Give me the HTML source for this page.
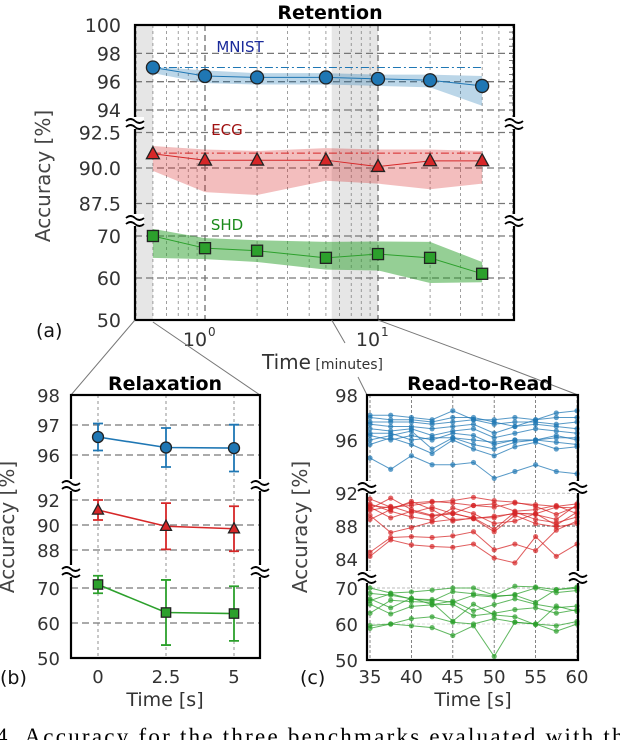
<!DOCTYPE html>
<html><head><meta charset="utf-8"><style>
html,body{margin:0;padding:0;background:#fff;width:620px;height:740px;overflow:hidden}
svg{display:block;font-family:"DejaVu Sans","Liberation Sans",sans-serif}
</style></head><body>
<svg id="chart" width="620" height="740" viewBox="0 0 620 740" xmlns="http://www.w3.org/2000/svg">
<text x="-4" y="744" font-family="Liberation Serif,serif" font-size="23" textLength="640" lengthAdjust="spacing" fill="#000">4. Accuracy for the three benchmarks evaluated with the</text>
</svg>
<script>
// ---------- data: panel (a) Retention ----------
const retTimes = [0.5, 1, 2, 5, 10, 20, 40];
const mnistRet = [97.0, 96.4, 96.3, 96.3, 96.2, 96.1, 95.7];
const mnistUp  = [97.05, 96.8, 96.6, 96.6, 96.5, 96.5, 96.4];
const mnistLo  = [96.6, 95.9, 95.8, 95.8, 95.7, 95.6, 94.3];
const ecgRet = [91.0, 90.55, 90.55, 90.55, 90.1, 90.5, 90.5];
const ecgUp  = [91.55, 91.3, 91.2, 91.4, 91.3, 91.3, 91.2];
const ecgLo  = [89.8, 88.3, 88.1, 89.1, 88.9, 88.5, 88.9];
const shdRet = [70.0, 67.1, 66.5, 64.8, 65.7, 64.8, 61.0];
const shdUp  = [71.7, 69.5, 69.0, 68.6, 68.7, 68.6, 63.8];
const shdLo  = [64.8, 64.5, 63.8, 62.0, 61.8, 58.8, 59.0];
const refMnist = 97.0, refEcg = 91.05;
// ---------- data: panel (b) Relaxation ----------
const relTimes = [0, 2.5, 5];
const mnistRel = [96.6, 96.25, 96.23];
const mnistRelErr = [0.45, 0.65, 0.78];
const ecgRel = [91.2, 89.9, 89.7];
const ecgRelErr = [0.8, 1.85, 1.8];
const shdRel = [71.0, 63.0, 62.7];
const shdRelErr = [2.5, 9.3, 7.8];
// ---------- data: panel (c) Read-to-Read ----------
const rrTimes = [35, 37.5, 40, 42.5, 45, 47.5, 50, 52.5, 55, 57.5, 60];
const mnistRR = [
 [95.2,94.7,95.3,94.9,94.9,95.0,94.3,94.6,94.9,94.6,94.5],
 [95.8,96.1,95.8,95.4,96.0,95.6,95.3,95.7,95.9,95.6,95.7],
 [96.0,96.2,96.4,95.6,96.1,95.8,95.6,95.9,96.0,95.9,95.8],
 [96.2,96.0,96.2,96.0,96.3,96.2,95.8,96.0,96.0,96.2,96.0],
 [96.5,96.4,96.5,96.2,96.4,96.5,96.1,96.3,96.5,96.4,96.3],
 [96.7,96.6,96.6,96.5,96.6,96.7,96.3,96.6,96.7,96.6,96.5],
 [96.8,96.8,96.8,96.7,96.8,96.9,96.7,96.8,96.8,96.7,96.8],
 [97.0,96.9,96.9,96.8,97.0,97.0,96.8,96.6,96.9,97.0,97.0],
 [97.1,97.1,97.0,96.9,97.3,96.9,96.9,97.0,96.9,97.2,97.3],
 [96.3,96.3,96.0,96.1,96.1,96.0,95.9,96.0,96.0,96.1,96.1]
];
const ecgRR = [
 [84.3,86.3,85.7,85.5,85.4,85.8,84.1,83.5,86.7,84.3,85.8],
 [84.8,86.6,86.7,86.6,86.8,87.3,85.1,85.8,85.0,87.5,88.6],
 [89.3,87.2,87.8,88.5,88.8,88.9,87.3,89.3,88.3,87.9,88.3],
 [90.3,89.0,89.8,89.2,89.5,89.0,87.6,89.7,88.8,88.4,89.1],
 [91.3,90.3,90.5,90.9,91.1,91.5,91.1,90.9,90.4,89.4,90.4],
 [90.1,91.4,90.0,89.3,89.6,88.9,89.2,89.5,89.5,90.3,90.2],
 [90.5,90.2,90.8,91.0,90.8,90.5,90.3,90.8,90.6,90.4,90.7],
 [89.9,90.4,89.6,90.3,89.5,90.5,90.7,89.8,90.0,90.5,89.5],
 [88.8,90.0,91.0,90.0,88.6,89.0,89.0,89.6,89.4,88.8,90.6],
 [90.7,89.8,89.1,88.7,90.2,89.5,88.3,88.6,89.5,88.1,89.7]
];
const shdRR = [
 [70.0,68.6,68.9,69.4,70.0,70.0,68.0,70.5,70.3,69.5,70.3],
 [68.5,68.0,67.0,66.4,69.0,68.4,67.8,68.0,66.0,69.6,69.9],
 [67.0,64.5,67.2,65.4,66.4,63.7,65.4,67.0,65.5,64.5,65.0],
 [65.5,62.8,64.9,65.3,65.5,62.3,63.0,64.0,64.5,63.0,64.0],
 [63.0,66.6,66.2,66.0,60.8,65.5,62.5,62.0,59.8,65.0,63.5],
 [59.6,60.0,61.5,62.0,60.5,60.0,61.5,60.5,60.0,59.5,60.7],
 [58.8,60.0,59.5,59.0,56.8,59.5,51.0,60.5,60.0,58.0,60.0],
 [66.5,68.4,66.9,66.8,66.0,68.0,67.5,68.2,70.0,68.7,69.3]
];

const NS = "http://www.w3.org/2000/svg";
const svg = document.getElementById('chart');
const BLUE="#1f77b4", RED="#d62728", GREEN="#2ca02c";
function el(tag, attrs, parent){const e=document.createElementNS(NS,tag);for(const k in attrs)e.setAttribute(k,attrs[k]);(parent||svg).appendChild(e);return e;}
function txt(x,y,s,size,opts,parent){const t=el('text',Object.assign({x:x,y:y,'font-size':size,fill:'#333'},opts||{}),parent);t.textContent=s;return t;}
function breakMark(x,y){const g=el('g',{});
 
 
 el('rect',{x:x-9,y:y-6,width:18,height:12,fill:'#fff'},g);
 el('path',{d:`M${x-9},${y-2} q4.5,-4 9,0 t9,0 M${x-9},${y+4} q4.5,-4 9,0 t9,0`,stroke:'#000','stroke-width':1.8,fill:'none'},g);}
function marker(kind,x,y,r,color,parent){
 let m;
 if(kind==='o') m=el('circle',{cx:x,cy:y,r:r,fill:color,stroke:'#222','stroke-width':1.3},parent);
 else if(kind==='^') m=el('path',{d:`M${x},${y-r*1.1} L${x+r},${y+r*0.75} L${x-r},${y+r*0.75}Z`,fill:color,stroke:'#222','stroke-width':1.3},parent);
 else m=el('rect',{x:x-r*0.85,y:y-r*0.85,width:r*1.7,height:r*1.7,fill:color,stroke:'#222','stroke-width':1.3},parent);
 return m;}

// ================= Panel (a) =================
const aL=135,aR=514,aT=25,aB=320;
const xA = t => 205 + Math.log10(t)*173;
const yM = v => 25 + (100-v)*14.17;
const yE = v => 168 - (v-90)*14.2;
const yS = v => 320 - (v-50)*4.2;
const gA = el('g',{});  
el('rect',{x:aL,y:aT,width:xA(0.5)-aL,height:aB-aT,fill:'#e6e6e6'},gA);
el('rect',{x:xA(5.4),y:aT,width:xA(10)-xA(5.4),height:aB-aT,fill:'#e6e6e6'},gA);
const minorT=[0.4,0.5,0.6,0.7,0.8,0.9,2,3,4,5,6,7,8,9,20,30,40,50,60];
minorT.forEach(t=>{const x=xA(t); if(x<aL||x>aR)return; el('line',{x1:x,x2:x,y1:aT,y2:aB,stroke:'#777','stroke-width':0.7,'stroke-dasharray':'3,3'},gA);});
[1,10].forEach(t=>el('line',{x1:xA(t),x2:xA(t),y1:aT,y2:aB,stroke:'#777','stroke-width':1.4,'stroke-dasharray':'6,4'},gA));
[[98,yM],[96,yM],[94,yM],[92.5,yE],[90,yE],[87.5,yE],[70,yS],[60,yS]].forEach(([v,f])=>el('line',{x1:aL,x2:aR,y1:f(v),y2:f(v),stroke:'#777','stroke-width':1.3,'stroke-dasharray':'7,4'},gA));
function retSeries(vals,up,lo,f,color,kind,name,ref,op){
 const g=el('g',{},gA);  
 let d='';retTimes.forEach((t,i)=>d+=(i?'L':'M')+xA(t)+','+f(up[i]));
 for(let i=retTimes.length-1;i>=0;i--)d+='L'+xA(retTimes[i])+','+f(lo[i]);
 const band=el('path',{d:d+'Z',fill:color,'fill-opacity':op},g);
 
 if(ref!==undefined){const r=el('line',{x1:xA(0.5),x2:xA(40),y1:f(ref),y2:f(ref),stroke:color,'stroke-width':1,'stroke-dasharray':'8,3,2,3'},g);
 }
 const ln=el('polyline',{points:retTimes.map((t,i)=>xA(t)+','+f(vals[i])).join(' '),fill:'none',stroke:color,'stroke-width':1},g);
 
 retTimes.forEach((t,i)=>{const m=marker(kind,xA(t),f(vals[i]),6.5,color,g);
  
  });
}
retSeries(mnistRet,mnistUp,mnistLo,yM,BLUE,'o','mnist',refMnist,0.3);
retSeries(ecgRet,ecgUp,ecgLo,yE,RED,'^','ecg',refEcg,0.3);
retSeries(shdRet,shdUp,shdLo,yS,GREEN,'s','shd',undefined,0.5);
for(let v=99.5;v>94;v-=0.5){el('line',{x1:aR-5,x2:aR,y1:yM(v),y2:yM(v),stroke:'#555','stroke-width':0.8},gA);}
el('rect',{x:aL,y:aT,width:aR-aL,height:aB-aT,fill:'none',stroke:'#000','stroke-width':2.2},gA);
breakMark(aL,123);breakMark(aL,220);breakMark(aR,123);breakMark(aR,220);
[[100,yM],[98,yM],[96,yM],[94,yM]].forEach(([v,f])=>txt(121,f(v)+7,String(v),19,{'text-anchor':'end'}));
[['92.5',92.5],['90.0',90],['87.5',87.5]].forEach(([s,v])=>txt(121,yE(v)+7,s,19,{'text-anchor':'end'}));
[70,60,50].forEach(v=>txt(121,yS(v)+7,String(v),19,{'text-anchor':'end'}));
txt(xA(1)-10,346,'10',19,{'text-anchor':'middle'});txt(xA(1)+3,336,'0',12);
txt(xA(10)-10,346,'10',19,{'text-anchor':'middle'});txt(xA(10)+3,336,'1',12);
const tl=txt(262,369,'Time',20,{});const tm=el('tspan',{'font-size':14},tl);tm.textContent=' [minutes]';

txt(330,19,'Retention',19,{'text-anchor':'middle','font-weight':'bold',fill:'#000'});
txt(240,52,'MNIST',15,{'text-anchor':'middle',fill:'#1a2a9a'});
txt(227,135,'ECG',15,{'text-anchor':'middle',fill:'#a01010'});
txt(227,230,'SHD',15,{'text-anchor':'middle',fill:'#1a8a1a'});
txt(50,176,'Accuracy [%]',20,{'text-anchor':'middle',transform:'rotate(-90 50 176)',fill:'#444'});
txt(36,337,'(a)',19,{fill:'#111'});
[[aL,aB,71,395],[xA(0.5),322,260,395],[xA(5.4),320,345,343],[358,377,367,395],[xA(10),320,513,370],[513,370,578,395]].forEach(p=>el('line',{x1:p[0],y1:p[1],x2:p[2],y2:p[3],stroke:'#777','stroke-width':1}));

// ================= Panel (b) =================
const bL=71,bR=260,bT=395,bB=658;
const xB = t => 98 + t*27.2;
const yBM = v => 395 + (98-v)*30;
const yBE = v => 525 - (v-90)*12.5;
const yBS = v => 658 - (v-50)*3.5;
const gB=el('g',{});  
relTimes.forEach(t=>el('line',{x1:xB(t),x2:xB(t),y1:bT,y2:bB,stroke:'#777','stroke-width':0.8,'stroke-dasharray':'3,3'},gB));
[[97,yBM],[96,yBM],[92,yBE],[90,yBE],[88,yBE],[70,yBS],[60,yBS]].forEach(([v,f])=>el('line',{x1:bL,x2:bR,y1:f(v),y2:f(v),stroke:'#777','stroke-width':1.2,'stroke-dasharray':'7,4'},gB));
function relSeries(vals,err,f,color,kind,name){
 const g=el('g',{},gB);  
 relTimes.forEach((t,i)=>{const x=xB(t),y1=f(vals[i]+err[i]),y2=f(vals[i]-err[i]);
  const eb=el('path',{d:`M${x},${y1}V${y2}M${x-5},${y1}H${x+5}M${x-5},${y2}H${x+5}`,stroke:color,'stroke-width':1.8,fill:'none'},g);
  });
 el('polyline',{points:relTimes.map((t,i)=>xB(t)+','+f(vals[i])).join(' '),fill:'none',stroke:color,'stroke-width':1.6},g);
 relTimes.forEach((t,i)=>{const m=marker(kind,xB(t),f(vals[i]),5.5,color,g);
  
  });
}
relSeries(mnistRel,mnistRelErr,yBM,BLUE,'o','mnist');
relSeries(ecgRel,ecgRelErr,yBE,RED,'^','ecg');
relSeries(shdRel,shdRelErr,yBS,GREEN,'s','shd');
el('rect',{x:bL,y:bT,width:bR-bL,height:bB-bT,fill:'none',stroke:'#000','stroke-width':2.2},gB);
breakMark(bL,485);breakMark(bL,571);breakMark(bR,485);breakMark(bR,571);
[[98,yBM],[97,yBM],[96,yBM],[92,yBE],[90,yBE],[88,yBE],[70,yBS],[60,yBS],[50,yBS]].forEach(([v,f])=>txt(60,f(v)+7,String(v),18,{'text-anchor':'end'}));
relTimes.forEach(t=>txt(xB(t),683,String(t),18,{'text-anchor':'middle'}));
txt(165,706,'Time [s]',19,{'text-anchor':'middle'});
txt(165,390,'Relaxation',19,{'text-anchor':'middle','font-weight':'bold',fill:'#000'});
txt(14,527,'Accuracy [%]',20,{'text-anchor':'middle',transform:'rotate(-90 14 527)',fill:'#444'});
txt(0,684,'(b)',19,{fill:'#111'});

// ================= Panel (c) =================
const cL=367,cR=578,cT=395,cB=660;
const xC = t => 370 + (t-35)*8.28;
const yCM = v => 395 + (98-v)*22.5;
const yCE = v => 526 - (v-88)*8.2;
const yCS = v => 660 - (v-50)*3.6;
const gC=el('g',{});  
[35,40,45,50,55,60].forEach(t=>el('line',{x1:xC(t),x2:xC(t),y1:cT,y2:cB,stroke:'#666','stroke-width':0.8,'stroke-dasharray':'3,2'},gC));
[[92,yCE,'#bbb'],[88,yCE,'#555'],[70,yCS,'#bbb'],[60,yCS,'#ddd']].forEach(([v,f,c])=>el('line',{x1:cL,x2:cR,y1:f(v),y2:f(v),stroke:c,'stroke-width':1,'stroke-dasharray':'3,2'},gC));
function rrSeries(lines,f,color,name){
 const g=el('g',{},gC);  
 lines.forEach(vals=>{
  const pl=el('polyline',{points:rrTimes.map((t,i)=>xC(t)+','+f(vals[i])).join(' '),fill:'none',stroke:color,'stroke-width':1,'stroke-opacity':0.75},g);
  
  rrTimes.forEach((t,i)=>{const c=el('circle',{cx:xC(t),cy:f(vals[i]),r:2.6,fill:color,'fill-opacity':0.7},g);
   
   });
 });
}
rrSeries(mnistRR,yCM,BLUE,'mnist');
rrSeries(ecgRR,yCE,RED,'ecg');
rrSeries(shdRR,yCS,GREEN,'shd');
el('rect',{x:cL,y:cT,width:cR-cL,height:cB-cT,fill:'none',stroke:'#000','stroke-width':2.2},gC);
breakMark(cL,487);breakMark(cL,577);breakMark(cR,487);breakMark(cR,577);
[[98,yCM],[96,yCM],[92,yCE],[88,yCE],[84,yCE],[70,yCS],[60,yCS],[50,yCS]].forEach(([v,f])=>txt(358,f(v)+7,String(v),18,{'text-anchor':'end'}));
[35,40,45,50,55,60].forEach(t=>txt(xC(t),683,String(t),18,{'text-anchor':'middle'}));
txt(473,706,'Time [s]',19,{'text-anchor':'middle'});
txt(480,390,'Read-to-Read',19,{'text-anchor':'middle','font-weight':'bold',fill:'#000'});
txt(307,527,'Accuracy [%]',20,{'text-anchor':'middle',transform:'rotate(-90 307 527)',fill:'#444'});
txt(300,684,'(c)',19,{fill:'#111'});
</script>
</body></html>
